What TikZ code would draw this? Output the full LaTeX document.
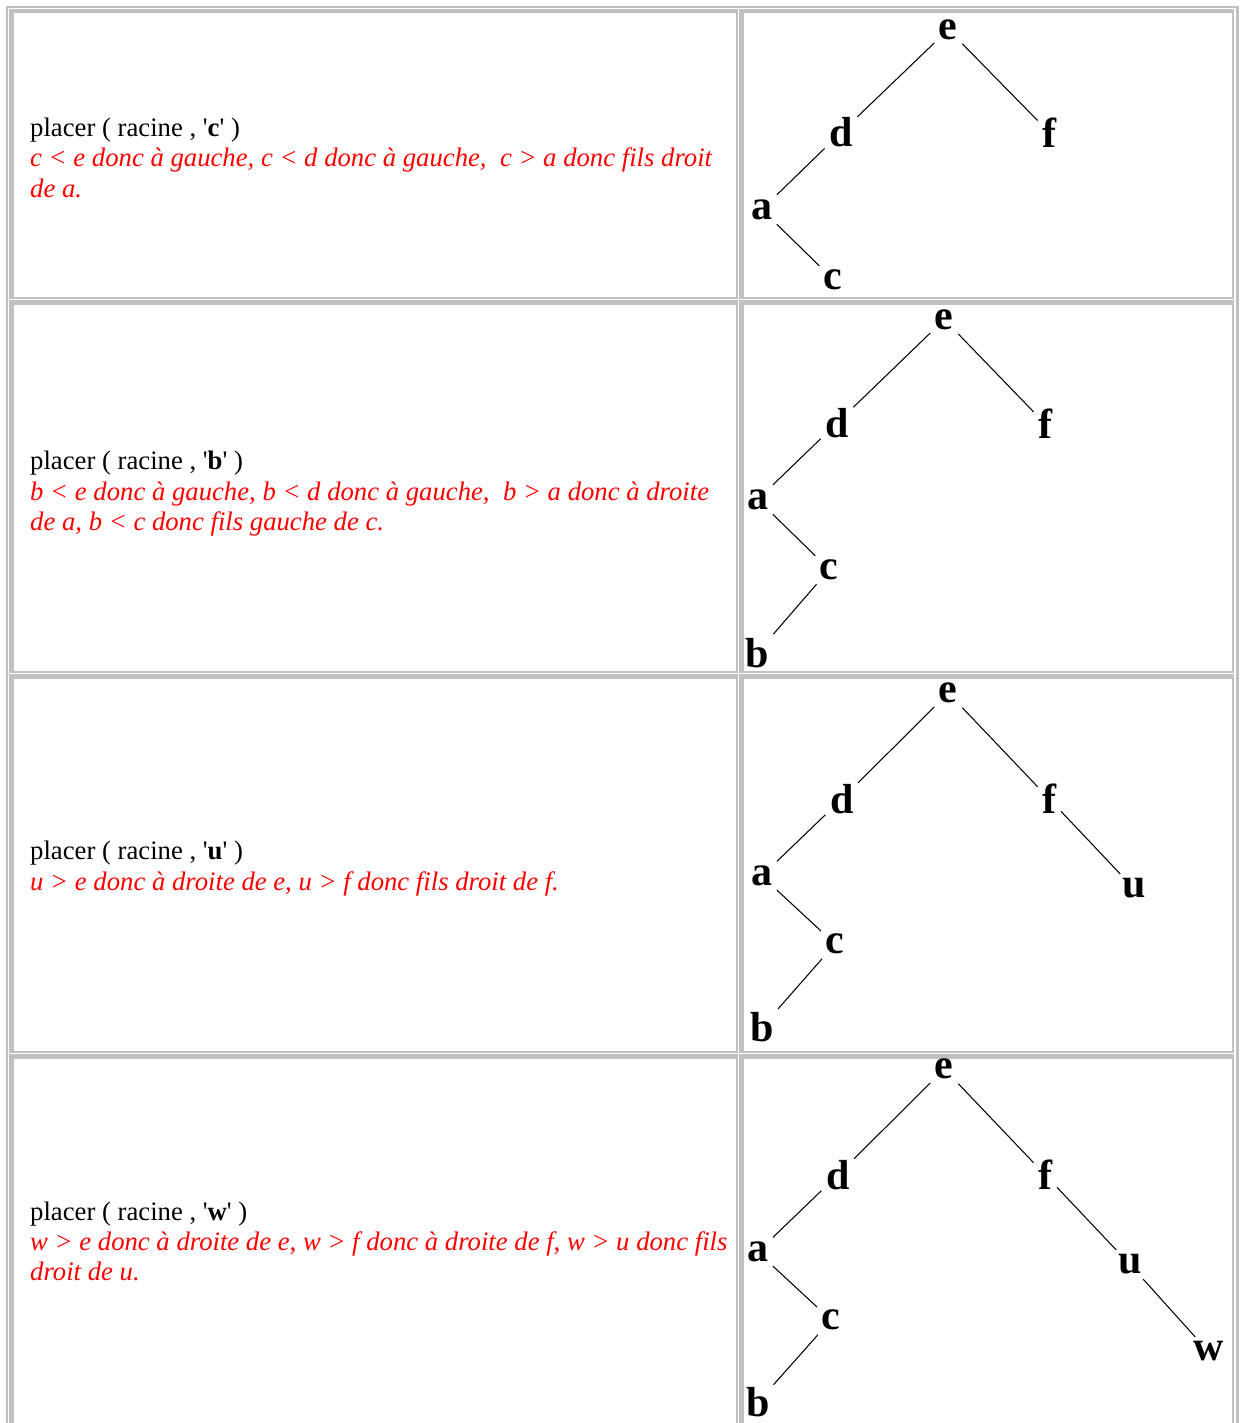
\documentclass[tikz,border=0pt]{standalone}
\usepackage{fontspec}
\newfontfamily\tnr{Liberation Serif}
\definecolor{bordergrey}{HTML}{C0C0C0}
\definecolor{htmlred}{HTML}{FF0000}
\tikzset{
  blackline/.style={anchor=base west, inner sep=0pt, text=black, font=\tnr\fontsize{26.7}{30.5}\selectfont},
  redline/.style={anchor=base west, inner sep=0pt, text=htmlred, font=\tnr\itshape\fontsize{26.7}{30.5}\selectfont},
  key/.style={font=\tnr\bfseries\fontsize{42}{42}\selectfont, inner sep=4.5pt},
  edge/.style={line width=1.05pt, black},
  band/.style={fill=bordergrey, draw=none}
}
% L, T, R, B, top band thickness
\newcommand\htmlcell[5]{%
  \fill[band] (#1,#2) rectangle (#1+5,#4);
  \fill[band] (#1,#2) rectangle (#3,#2+#5);
  \fill[band] (#3-1.7,#2) rectangle (#3,#4);
  \fill[band] (#1,#4-1.7) rectangle (#3,#4);
}
\begin{document}
\begin{tikzpicture}[x=1pt,y=-1pt]
\useasboundingbox (0,0) rectangle (1239,1423);
\fill[white] (0,0) rectangle (1239,1423);
% outer table frame
\fill[band] (6,6) rectangle (7.5,1430);
\fill[band] (6,6) rectangle (1239,8);
\fill[band] (1235.7,6) rectangle (1239,1430);
% cells
\htmlcell{9}{9.5}{737.7}{299}{3.5}
\htmlcell{738.5}{9.5}{1234}{299}{3.5}
\htmlcell{9}{300.3}{737.7}{673}{5}
\htmlcell{738.5}{300.3}{1234}{673}{5}
\htmlcell{9}{673.8}{737.7}{1052.7}{5}
\htmlcell{738.5}{673.8}{1234}{1052.7}{5}
\htmlcell{9}{1053.6}{737.7}{1440}{5}
\htmlcell{738.5}{1053.6}{1234}{1440}{5}

% ---- row 1 text
\node[blackline] (p1) at (30,136.5) {placer ( racine , '\textbf{c}' )};
\node[redline] (r1a) at (30,167) {c < e donc à gauche, c < d donc à gauche,~ c > a donc fils droit};
\node[redline] (r1b) at (30,197.5) {de a.};
% ---- row 1 tree
\node[key] (e1) at (948.3,29.5) {e};
\node[key] (d1) at (841,132.5) {d};
\node[key] (f1) at (1049.3,132.5) {f};
\node[key] (a1) at (761.7,209.5) {a};
\node[key] (c1) at (833.3,279.5) {c};
\draw[edge] (e1) -- (d1);
\draw[edge] (e1) -- (f1);
\draw[edge] (d1) -- (a1);
\draw[edge] (a1) -- (c1);

% ---- row 2 text
\node[blackline] (p2) at (30,469.5) {placer ( racine , '\textbf{b}' )};
\node[redline] (r2a) at (30,500) {b < e donc à gauche, b < d donc à gauche,~ b > a donc à droite};
\node[redline] (r2b) at (30,530.5) {de a, b < c donc fils gauche de c.};
% ---- row 2 tree
\node[key] (e2) at (944.3,319.5) {e};
\node[key] (d2) at (837,423) {d};
\node[key] (f2) at (1045.3,424) {f};
\node[key] (a2) at (757.7,499.5) {a};
\node[key] (c2) at (829.3,569.5) {c};
\node[key] (b2) at (757,653) {b};
\draw[edge] (e2) -- (d2);
\draw[edge] (e2) -- (f2);
\draw[edge] (d2) -- (a2);
\draw[edge] (a2) -- (c2);
\draw[edge] (c2) -- (b2);

% ---- row 3 text
\node[blackline] (p3) at (30,859.5) {placer ( racine , '\textbf{u}' )};
\node[redline] (r3a) at (30,890.5) {u > e donc à droite de e, u > f donc fils droit de f.};
% ---- row 3 tree
\node[key] (e3) at (948.3,693) {e};
\node[key] (d3) at (841.7,799) {d};
\node[key] (f3) at (1049.3,799) {f};
\node[key] (a3) at (761.7,876) {a};
\node[key] (c3) at (835,944) {c};
\node[key] (b3) at (761.7,1027.5) {b};
\node[key] (u3) at (1134,888.5) {u};
\draw[edge] (e3) -- (d3);
\draw[edge] (e3) -- (f3);
\draw[edge] (d3) -- (a3);
\draw[edge] (a3) -- (c3);
\draw[edge] (c3) -- (b3);
\draw[edge] (f3) -- (u3);

% ---- row 4 text
\node[blackline] (p4) at (30,1220) {placer ( racine , '\textbf{w}' )};
\node[redline] (r4a) at (30,1250) {w > e donc à droite de e, w > f donc à droite de f, w > u donc fils};
\node[redline] (r4b) at (30,1280) {droit de u.};
% ---- row 4 tree
\node[key] (e4) at (944.3,1069) {e};
\node[key] (d4) at (837.7,1175) {d};
\node[key] (f4) at (1045.3,1175) {f};
\node[key] (a4) at (757.7,1252) {a};
\node[key] (c4) at (831,1320) {c};
\node[key, inner sep=2pt] (b4) at (757.7,1402.5) {b};
\node[key] (u4) at (1130,1264.5) {u};
\node[key] (w4) at (1208.3,1351.5) {w};
\draw[edge] (e4) -- (d4);
\draw[edge] (e4) -- (f4);
\draw[edge] (d4) -- (a4);
\draw[edge] (a4) -- (c4);
\draw[edge, shorten >=3pt] (c4) -- (b4);
\draw[edge] (f4) -- (u4);
\draw[edge] (u4) -- (w4);
\end{tikzpicture}
\end{document}
